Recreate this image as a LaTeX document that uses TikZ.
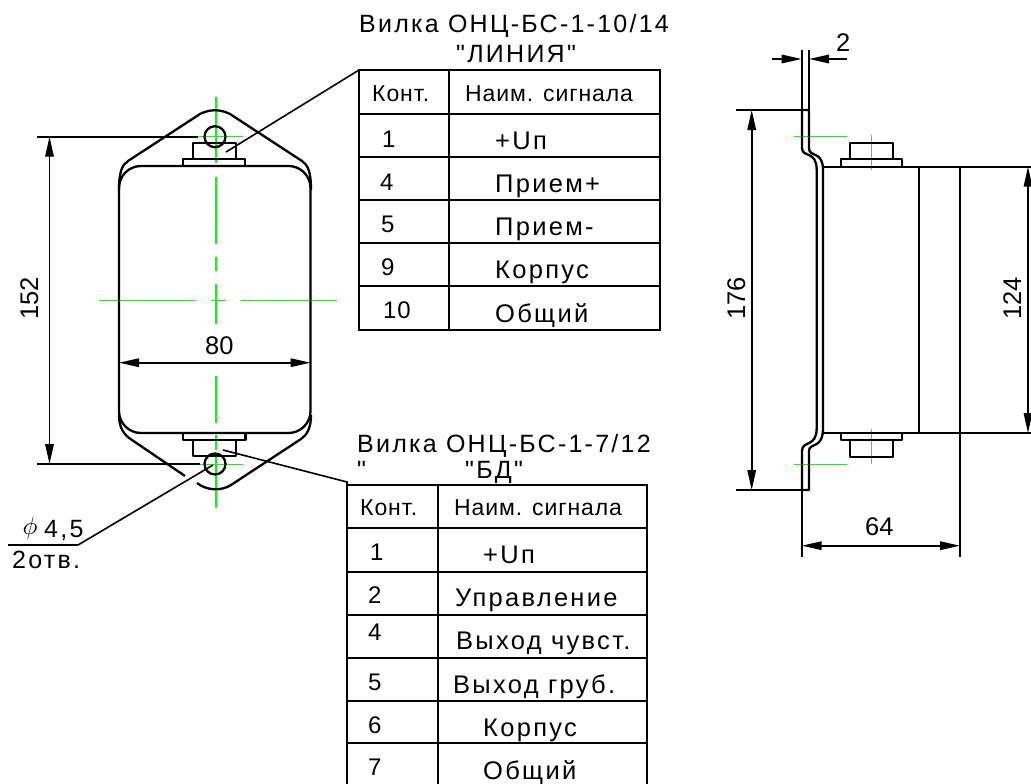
\documentclass[tikz,border=0pt]{standalone}
\usepackage{fontspec}
\setmainfont{Liberation Sans}
\newfontfamily\spacedfont[LetterSpace=4]{Liberation Sans}
\newfontfamily\widefont[LetterSpace=9]{Liberation Sans}
\usetikzlibrary{arrows.meta}

\begin{document}
\begin{tikzpicture}[
    x=1pt, y=-1pt,
    outline/.style={line width=2.3pt, line join=round},
    thin line/.style={line width=1.6pt},
    grid line/.style={line width=2pt},
    axis/.style={green, line width=1.4pt},
    upaxis/.style={green, line width=2pt},
    dimarrow/.style={<->, >={Triangle[length=20pt, width=8.5pt]}, line width=1.6pt},
    onearrow/.style={->, >={Triangle[length=20pt, width=8.5pt]}, line width=1.6pt},
    head/.style={anchor=base west, inner sep=0pt, font=\spacedfont\fontsize{23}{27}\selectfont},
    num/.style={anchor=base west, inner sep=0pt, font=\spacedfont\fontsize{24}{28}\selectfont},
    cell/.style={anchor=base west, inner sep=0pt, font=\widefont\fontsize{25.5}{30}\selectfont},
    title/.style={anchor=base west, inner sep=0pt, font=\widefont\fontsize{25}{29}\selectfont},
    dimtext/.style={anchor=base west, inner sep=0pt, font=\fontsize{25.5}{30}\selectfont}
]
\useasboundingbox (0,0) rectangle (1031,784);

% Center lines, front view
\draw[upaxis] (215.5,97) -- (215.5,163);
\draw[upaxis] (215.5,177) -- (215.5,244);
\draw[upaxis] (215.5,257) -- (215.5,271);
\draw[upaxis] (215.5,284) -- (215.5,324);
\draw[upaxis] (215.5,376) -- (215.5,423);
\draw[upaxis] (215.5,435) -- (215.5,450);
\draw[upaxis] (215.5,457) -- (215.5,508);
\draw[axis] (99,300.5) -- (196,300.5);
\draw[axis] (211,300.5) -- (226,300.5);
\draw[axis] (241,300.5) -- (337,300.5);
\draw[axis] (192,136.5) -- (243,136.5);
\draw[axis] (191,464.5) -- (243,464.5);

% Front view
\draw[outline, rounded corners=22pt] (119,166) rectangle (310.5,433);
\draw[outline] (119,190) .. controls (119,172) and (122,165) .. (128,161) -- (200,114)
    .. controls (210,109) and (220,109) .. (230,114) -- (302,161)
    .. controls (308,165) and (311,172) .. (311,190);
\draw[outline] (119,415) .. controls (119,428) and (124,435) .. (132,440) -- (185,476);
\draw[outline] (197,483) .. controls (207,491) and (222,491) .. (231,485) -- (301,439)
    .. controls (307,435) and (311,428) .. (311,415);
\draw[outline] (215,136.7) circle (10.5);
\draw[outline] (215,464) circle (10.5);
\draw[outline] (183,166) rectangle (245,159);
\draw[outline] (192.7,159) rectangle (235.7,143);
\draw[outline] (183,433) rectangle (245.5,440);
\draw[outline] (192.7,440) rectangle (236,455.7);

% Dimensions, front view
\draw[thin line] (37,136.7) -- (198,136.7);
\draw[thin line] (37,464) -- (200,464);
\draw[dimarrow] (49.5,136.7) -- (49.5,464);
\draw[dimarrow] (119,362.7) -- (310.5,362.7);
\node[dimtext, rotate=90] (dim152) at (38,320) {152};
\node[dimtext] (dim80) at (205,354) {80};

% Leaders
\coordinate (studtop) at (226,152);
\coordinate (studbottom) at (223,450);
\coordinate (holebottom) at (213,465);
\coordinate (shelf) at (78,545);
\coordinate (shelfend) at (8,545);
\draw[thin line] (studtop) -- (359,70);
\draw[thin line] (studbottom) -- (347,482) -- (347,485);
\draw[thin line] (holebottom) -- (shelf) -- (shelfend);
\node[inner sep=0pt, anchor=base west, scale=2.5] (phi) at (22,534) {$\phi$};
\node[title] (hole) at (44,537) {4,5};
\node[title] (holes) at (12,568) {2отв.};

% Table, line connector
\node[title] (titleA) at (359,32.7) {Вилка ОНЦ-БС-1-10/14};
\node[title] (nameA) at (456,63) {"ЛИНИЯ"};
\draw[grid line] (359,70) rectangle (660,330);
\draw[grid line] (449,70) -- (449,330);
\foreach \ypos in {114,157,200,243,286} {
    \draw[grid line] (359,\ypos) -- (660,\ypos);
}
\node[head] (headA) at (372,102) {Конт.};
\node[head] (signalA) at (465,102) {Наим. сигнала};
\node[num] (a1) at (382,147) {1};
\node[num] (a4) at (380,190) {4};
\node[num] (a5) at (381,232) {5};
\node[num] (a9) at (381,275) {9};
\node[num] (a10) at (383,318) {10};
\node[cell] (sa1) at (495,149) {+Uп};
\node[cell] (sa4) at (495,192.7) {Прием+};
\node[cell] (sa5) at (495,235) {Прием-};
\node[cell] (sa9) at (495,278) {Корпус};
\node[cell] (sa10) at (495,322) {Общий};

% Table, sensor connector
\node[title] (titleB) at (357,452) {Вилка ОНЦ-БС-1-7/12};
\node[title] (quoteB) at (357,478) {"};
\node[title] (nameB) at (465,478) {"БД"};
\draw[grid line] (347.3,784) -- (347.3,485) -- (646.7,485) -- (646.7,784);
\draw[grid line] (437.7,485) -- (437.7,784);
\foreach \ypos in {528,571.7,615,657.7,701,743} {
    \draw[grid line] (347.3,\ypos) -- (646.7,\ypos);
}
\node[head] (headB) at (360,515) {Конт.};
\node[head] (signalB) at (454,515) {Наим. сигнала};
\node[num] (b1) at (370,560) {1};
\node[num] (b2) at (368,603) {2};
\node[num] (b4) at (368,640) {4};
\node[num] (b5) at (368,690) {5};
\node[num] (b6) at (368,733) {6};
\node[num] (b7) at (368,775) {7};
\node[cell] (sb1) at (483,563) {+Uп};
\node[cell] (sb2) at (455,606) {Управление};
\node[cell] (sb4) at (456,649) {Выход чувст.};
\node[cell] (sb5) at (453,693) {Выход груб.};
\node[cell] (sb6) at (483,736) {Корпус};
\node[cell] (sb7) at (483,779) {Общий};

% Center lines, side view
\draw[upaxis, line width=1.6pt] (871.5,135) -- (871.5,170);
\draw[upaxis, line width=1.6pt] (871.5,429) -- (871.5,464);
\draw[axis] (794,136.5) -- (847,136.5);
\draw[axis] (794,464.5) -- (847,464.5);

% Side view
\draw[outline] (809,110) -- (802,110) -- (802,148) .. controls (802,158) and (816.7,150) .. (816.7,170)
    -- (816.7,428) .. controls (816.7,448) and (802,440) .. (802,451) -- (802,490) -- (809,490)
    -- (809,451) .. controls (809,442) and (823,450) .. (823,428) -- (823,170)
    .. controls (823,150) and (809,158) .. (809,148) -- cycle;
\draw[outline] (823,166.7) -- (960,166.7);
\draw[outline] (823,433) -- (960,433);
\draw[outline] (919,166.7) -- (919,433);
\draw[outline] (960,166.7) -- (960,433);
\draw[outline] (840.7,166.7) rectangle (902,159);
\draw[outline] (850,159) rectangle (893,142.7);
\draw[outline] (840.7,433) rectangle (902,440);
\draw[outline] (850,440) rectangle (893,456.7);

% Dimensions, side view
\draw[thin line] (801.7,50) -- (801.7,110);
\draw[thin line] (809,50) -- (809,110);
\draw[onearrow] (772,59) -- (801.7,59);
\draw[onearrow] (847,59) -- (809,59);
\node[dimtext] (dim2) at (836,51.7) {2};
\draw[thin line] (736,110) -- (809,110);
\draw[thin line] (736,490) -- (809,490);
\draw[dimarrow] (751.7,110) -- (751.7,490);
\node[dimtext, rotate=90] (dim176) at (745,320) {176};
\draw[thin line] (960,166.7) -- (1031,166.7);
\draw[thin line] (960,433) -- (1031,433);
\draw[dimarrow] (1028,166.7) -- (1028,433);
\node[dimtext, rotate=90] (dim124) at (1021,320) {124};
\draw[thin line] (801.7,490) -- (801.7,556.7);
\draw[thin line] (960,433) -- (960,556.7);
\draw[dimarrow] (801.7,545.7) -- (960,545.7);
\node[dimtext] (dim64) at (865,535.7) {64};

\end{tikzpicture}
\end{document}
